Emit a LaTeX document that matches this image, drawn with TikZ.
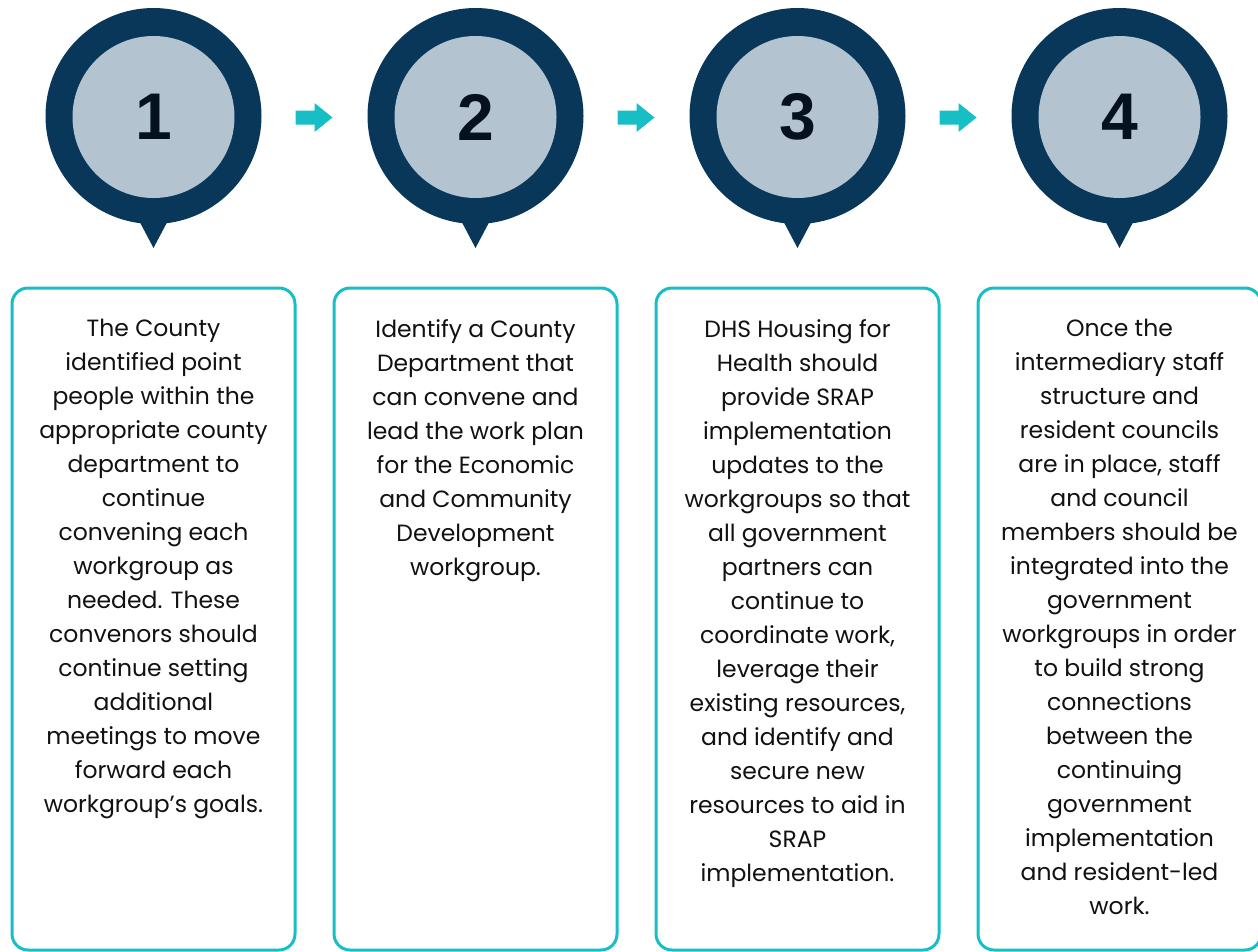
\documentclass[tikz,border=0pt]{standalone}
\usepackage{fontspec}
\setmainfont{Poppins}
\newfontfamily\numfont{Liberation Sans}
\usetikzlibrary{positioning,calc}
\definecolor{pinnavy}{RGB}{8,55,90}
\definecolor{pinlight}{RGB}{180,195,208}
\definecolor{stepteal}{RGB}{23,190,197}
\definecolor{numblack}{RGB}{5,17,30}
\definecolor{textblack}{RGB}{17,17,17}
\tikzset{
    pinouter/.style={circle, fill=pinnavy, minimum size=216pt, inner sep=0pt, outer sep=0pt},
    pininner/.style={circle, fill=pinlight, minimum size=162pt, inner sep=0pt, outer sep=0pt, text=numblack, font=\numfont\bfseries\fontsize{66}{66}\selectfont},
    stepbox/.style={rectangle, rounded corners=16pt, draw=stepteal, line width=3pt, minimum width=283pt, minimum height=662pt, outer sep=0pt},
    steptext/.style={anchor=north, align=center, inner sep=0pt, text=textblack, font=\fontsize{23.5}{34}\selectfont},
    flowarrow/.style={fill=stepteal}
}

\begin{document}
\begin{tikzpicture}[x=1pt, y=-1pt]
    \useasboundingbox (0,0) rectangle (1258,951);

    % Numbered pins
    \foreach \i/\x in {1/153.5,2/475.5,3/797.5,4/1119.5}{
        \node[pinouter] (c\i) at (\x,116) {};
        \fill[pinnavy] ($(c\i.south)+(-19,-12)$) -- ($(c\i.south)+(19,-12)$) -- ($(c\i.south)+(0,24)$) -- cycle;
        \node[pininner] (n\i) at (\x,117) {\i};
    }

    % Arrows between pins
    \foreach \a/\b in {1/2,2/3,3/4}
        \fill[flowarrow] ($(c\a)!0.5!(c\b)+(0,1.5)$) ++(-19,-7) -- ++(19,0) -- ++(0,-7.5) -- ++(18,14.5) -- ++(-18,14.5) -- ++(0,-7.5) -- ++(-19,0) -- cycle;

    % Text boxes
    \foreach \i/\x in {1/153.5,2/475.5,3/797.5,4/1119.5}
        \node[stepbox] (b\i) at (\x,619) {};

    \node[steptext] (t1) at ([yshift=-31pt]b1.north) {The County\\identified point\\people within the\\appropriate county\\department to\\continue\\convening each\\workgroup as\\needed. These\\convenors should\\continue setting\\additional\\meetings to move\\forward each\\workgroup’s goals.};
    \node[steptext] (t2) at ([yshift=-31pt]b2.north) {Identify a County\\Department that\\can convene and\\lead the work plan\\for the Economic\\and Community\\Development\\workgroup.};
    \node[steptext] (t3) at ([yshift=-31pt]b3.north) {DHS Housing for\\Health should\\provide SRAP\\implementation\\updates to the\\workgroups so that\\all government\\partners can\\continue to\\coordinate work,\\leverage their\\existing resources,\\and identify and\\secure new\\resources to aid in\\SRAP\\implementation.};
    \node[steptext] (t4) at ([yshift=-31pt]b4.north) {Once the\\intermediary staff\\structure and\\resident councils\\are in place, staff\\and council\\members should be\\integrated into the\\government\\workgroups in order\\to build strong\\connections\\between the\\continuing\\government\\implementation\\and resident-led\\work.};
\end{tikzpicture}
\end{document}
